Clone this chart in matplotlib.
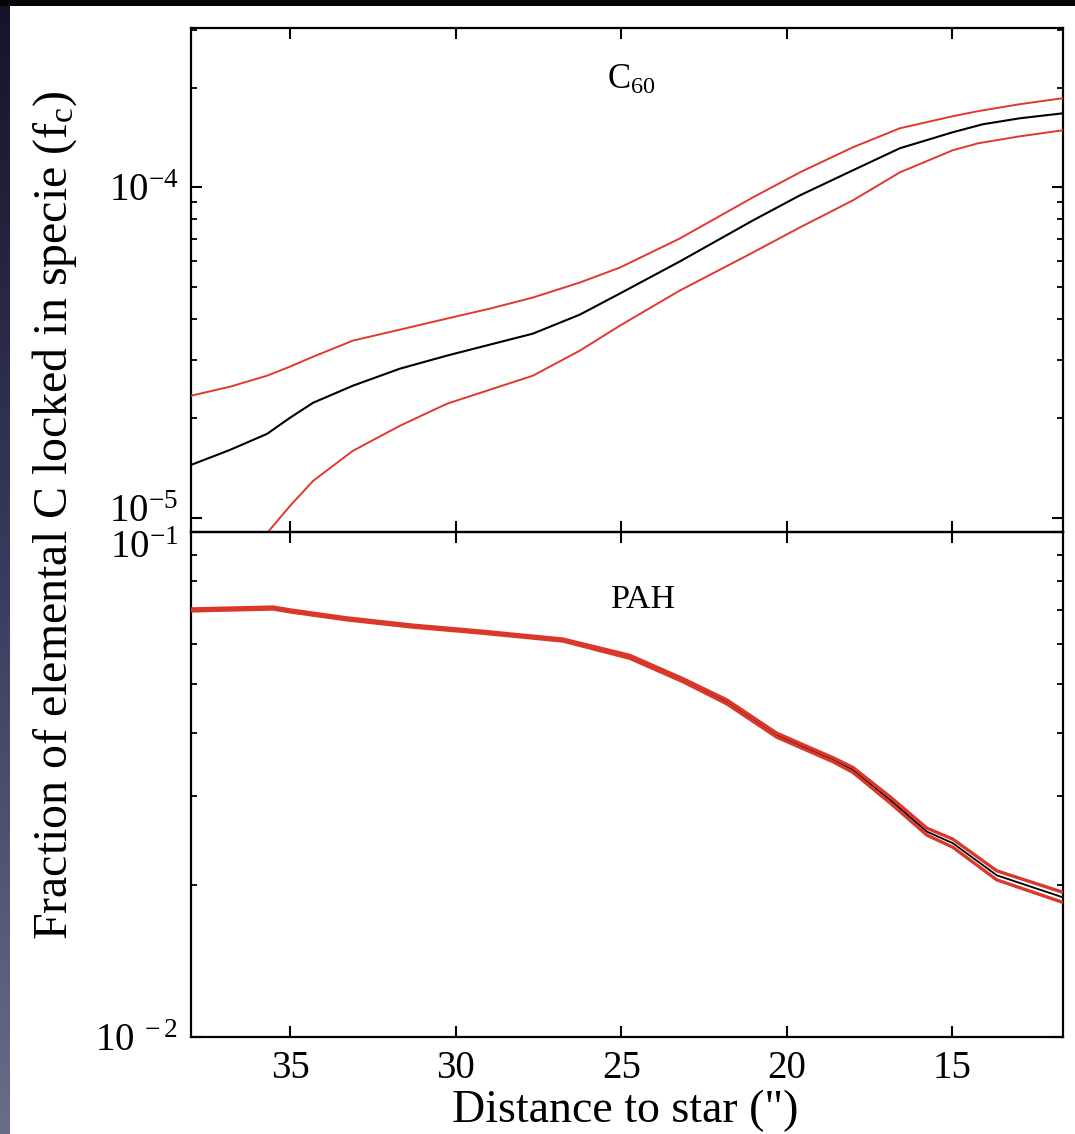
import numpy as np
import matplotlib
matplotlib.use("Agg")
import matplotlib.pyplot as plt
from matplotlib.ticker import LogLocator, NullFormatter, FixedLocator, FixedFormatter
from matplotlib.colors import LinearSegmentedColormap
import matplotlib.transforms as mtransforms

plt.rcParams['font.family'] = ['Liberation Serif', 'DejaVu Serif']
plt.rcParams['mathtext.fontset'] = 'custom'
plt.rcParams['mathtext.rm'] = 'Liberation Serif'
plt.rcParams['mathtext.it'] = 'Liberation Serif:italic'

# ---- C60 data (distance in arcsec, fraction of C) ----
c60_x = [38.00, 36.82, 35.70, 35.01, 34.31, 33.11, 31.69, 30.27, 28.97, 27.67, 26.25,
         25.04, 23.23, 21.02, 19.60, 18.00, 16.58, 14.98, 14.07, 12.95, 11.65]
c60_mid = [1.447e-5, 1.607e-5, 1.797e-5, 2.009e-5, 2.231e-5, 2.512e-5, 2.828e-5,
           3.097e-5, 3.344e-5, 3.610e-5, 4.122e-5, 4.774e-5, 5.968e-5, 7.943e-5,
           9.458e-5, 1.126e-4, 1.313e-4, 1.468e-4, 1.552e-4, 1.618e-4, 1.675e-4]
c60_hi_x = [38.00, 36.82, 35.70, 35.01, 34.31, 33.11, 31.69, 30.27, 28.97, 27.67, 26.25,
            25.04, 23.23, 21.02, 19.60, 18.00, 16.58, 14.98, 14.22, 12.95, 11.65]
c60_hi = [2.343e-5, 2.495e-5, 2.694e-5, 2.869e-5, 3.075e-5, 3.439e-5, 3.712e-5,
          4.009e-5, 4.297e-5, 4.642e-5, 5.154e-5, 5.720e-5, 7.004e-5, 9.326e-5,
          1.110e-4, 1.322e-4, 1.509e-4, 1.641e-4, 1.700e-4, 1.785e-4, 1.861e-4]
c60_lo_x = [36.49, 35.70, 35.01, 34.31, 33.11, 31.69, 30.27, 28.97, 27.67, 26.25,
            25.04, 23.23, 21.02, 19.60, 18.00, 16.58, 14.98, 14.22, 12.95, 11.65]
c60_lo = [7.153e-6, 9.006e-6, 1.087e-5, 1.295e-5, 1.596e-5, 1.900e-5, 2.215e-5,
          2.443e-5, 2.694e-5, 3.207e-5, 3.817e-5, 4.874e-5, 6.353e-5, 7.566e-5,
          9.133e-5, 1.110e-4, 1.295e-4, 1.359e-4, 1.427e-4, 1.488e-4]

# ---- PAH data ----
pah_x = [38.0, 35.52, 35.01, 33.29, 31.29, 29.27, 26.76, 24.74, 23.14, 21.81, 20.30,
         18.60, 18.00, 16.88, 15.76, 14.98, 13.65, 11.65]
pah_mid = [0.0701, 0.0707, 0.0698, 0.0673, 0.0651, 0.0634, 0.0611, 0.0566, 0.0509,
           0.0461, 0.0396, 0.0354, 0.0338, 0.0295, 0.0255, 0.0242, 0.0209, 0.0189]
pah_hi = [0.07042, 0.07103, 0.07012, 0.06761, 0.06540, 0.06369, 0.06138, 0.05699,
          0.05125, 0.04652, 0.03996, 0.03573, 0.03419, 0.02991, 0.02591, 0.02465,
          0.02133, 0.01934]
pah_lo = [0.06978, 0.07038, 0.06948, 0.06699, 0.06480, 0.06311, 0.06082, 0.05621,
          0.05055, 0.04568, 0.03924, 0.03508, 0.03342, 0.02910, 0.02510, 0.02376,
          0.02047, 0.01847]

x_ticks = [35, 30, 25, 20, 15]
x_ticklabels = ['35', '30', '25', '20', '15']

W, H = 1075, 1134
fig = plt.figure(figsize=(W / 100, H / 100), dpi=100)
fig.patch.set_facecolor('#050508')

# white page region
fig.patches.append(plt.Rectangle((10 / W, 0), 1 - 10 / W, 1 - 6 / H,
                                 transform=fig.transFigure, facecolor='white',
                                 edgecolor='none', zorder=-10))
# left gradient strip
gax = fig.add_axes([0, 0, 10 / W, 1 - 6 / H], zorder=-5)
grad = np.linspace(0, 1, 256).reshape(-1, 1)
cm = LinearSegmentedColormap.from_list('g', ['#14142a', '#3a3a5e', '#6a6c88'])
gax.imshow(grad, aspect='auto', cmap=cm, extent=[0, 1, 0, 1], origin='upper')
gax.set_axis_off()

left = 191 / W
width = (1063 - 191) / W
ax1 = fig.add_axes([left, 1 - 532 / H, width, (532 - 28) / H])
ax2 = fig.add_axes([left, 1 - 1037 / H, width, (1037 - 532) / H])

red = '#e0382e'
ax1.plot(c60_hi_x, c60_hi, color=red, lw=1.4, zorder=3)
ax1.plot(c60_lo_x, c60_lo, color=red, lw=1.4, zorder=3)
ax1.plot(c60_x, c60_mid, color='black', lw=1.5, zorder=4)

ax2.plot(pah_x, pah_mid, color='black', lw=1.3, zorder=3)
ax2.plot(pah_x, pah_hi, color='#d9382a', lw=2.4, zorder=4, solid_capstyle='butt')
ax2.plot(pah_x, pah_lo, color='#d9382a', lw=2.4, zorder=4, solid_capstyle='butt')

ax1.set_yscale('log')
ax2.set_yscale('log')
ax1.set_ylim(10 ** -5.0424, 10 ** -3.518)
ax2.set_ylim(0.01, 0.1)
for ax in (ax1, ax2):
    ax.set_xlim(38.0, 11.65)
    ax.xaxis.set_major_locator(FixedLocator(x_ticks))
    ax.yaxis.set_minor_locator(LogLocator(base=10, subs=np.arange(2, 10), numticks=20))
    ax.yaxis.set_minor_formatter(NullFormatter())
    ax.tick_params(which='major', direction='in', length=8, width=1.5,
                   top=True, right=True, labelsize=28, pad=9)
    ax.tick_params(which='minor', direction='in', length=4.5, width=1.3,
                   top=True, right=True)
    for s in ax.spines.values():
        s.set_linewidth(1.6)
    ax.set_facecolor('none')

ax1.tick_params(axis='x', labelbottom=False)
ax2.xaxis.set_major_formatter(FixedFormatter(x_ticklabels))

ax1.yaxis.set_major_locator(FixedLocator([1e-5, 1e-4]))
ax1.yaxis.set_major_formatter(FixedFormatter([r'$\mathregular{10^{-5}}$', r'$\mathregular{10^{-4}}$']))
ax2.yaxis.set_major_locator(FixedLocator([1e-2, 1e-1]))
ax2.yaxis.set_major_formatter(FixedFormatter([r'$\mathregular{10^{\ -2}}$', r'$\mathregular{10^{-1}}$']))

fig.canvas.draw()
# nudge overlapping decade labels apart at the shared boundary
lab5 = ax1.yaxis.get_majorticklabels()[0]
lab5.set_transform(lab5.get_transform() + mtransforms.ScaledTranslation(0, 10 / 100, fig.dpi_scale_trans))
lab1 = ax2.yaxis.get_majorticklabels()[1]
lab1.set_transform(lab1.get_transform() + mtransforms.ScaledTranslation(0, -12 / 100, fig.dpi_scale_trans))

fig.text(631 / W, 1 - 80 / H, r'$\mathregular{C_{60}}$', fontsize=25, ha='center', va='center')
fig.text(644 / W, 1 - 600 / H, 'PAH', fontsize=24.5, ha='center', va='center')

fig.text(55 / W, 1 - 515 / H, r'Fraction of elemental C locked in specie (f$_\mathregular{c}$)',
         rotation=90, ha='center', va='center', fontsize=34.5)
fig.text(625 / W, 1 - 1111 / H, 'Distance to star (")', ha='center', va='center', fontsize=33)

fig.savefig('out.png', dpi=100, facecolor=fig.get_facecolor())
